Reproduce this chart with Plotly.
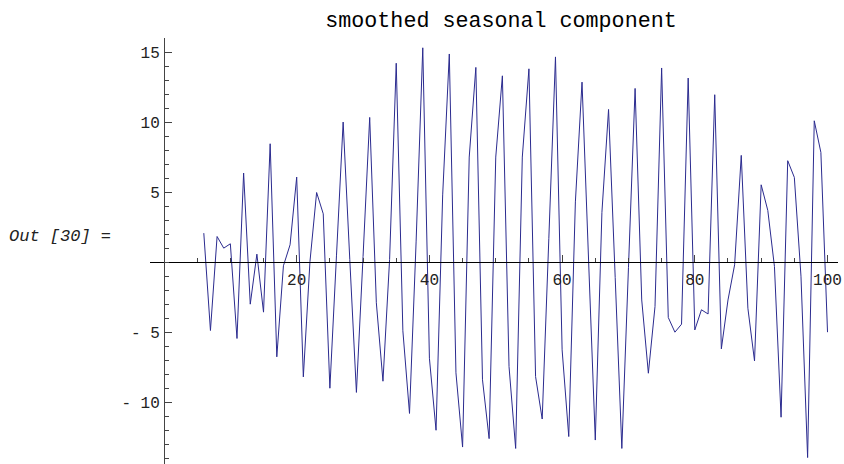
import plotly.graph_objects as go

x_start = 6
values = [
    2.07, -4.88, 1.83, 1.0, 1.31, -5.45, 6.36, -3.0, 0.57, -3.57,      # 6-15
    8.45, -6.76, -0.26, 1.24, 6.07, -8.19, 0.05, 4.97, 3.45, -9.0,     # 16-25
    0.5, 10.0, 0.2, -9.3, 0.4, 10.33, -2.9, -8.5, 0.2, 14.2,           # 26-35
    -4.9, -10.8, 1.5, 15.3, -6.86, -12.0, 4.8, 14.86, -7.9, -13.2,     # 36-45
    7.5, 13.9, -8.4, -12.6, 7.5, 13.3, -7.45, -13.3, 7.5, 13.8,        # 46-55
    -8.17, -11.2, 1.7, 14.65, -6.26, -12.45, 4.3, 12.85, 0.0, -12.7,   # 56-65
    3.55, 10.9, -1.1, -13.3, -0.4, 12.4, -2.7, -7.93, -3.17, 13.86,    # 66-75
    -3.95, -5.0, -4.43, 13.14, -4.84, -3.4, -3.7, 11.95, -6.19, -2.7,  # 76-85
    -0.19, 7.62, -3.29, -7.05, 5.52, 3.69, -0.31, -11.07, 7.24, 6.05,  # 86-95
    -1.0, -13.95, 10.09, 7.83, -5.0                                    # 96-100
]
x_vals = list(range(x_start, x_start + len(values)))

x_tickvals = [20, 40, 60, 80, 100]
x_ticktext = ["20", "40", "60", "80", "100"]
y_tickvals = [15, 10, 5, -5, -10]
y_ticktext = ["15", "10", "5", "- 5", "- 10"]

title_text = "smoothed seasonal component"
out_label = "Out [30] ="

x_range = [-2.11, 101.58]
y_range = [-14.41, 16.0]

W, H = 844, 464
ml, mr, mt, mb = 150, 6, 38, 0

x_frac0 = (0 - x_range[0]) / (x_range[1] - x_range[0])
y_frac0 = (0 - y_range[0]) / (y_range[1] - y_range[0])

fig = go.Figure()
fig.add_trace(go.Scatter(
    x=x_vals, y=values, mode="lines",
    line=dict(color="#2b2b8f", width=1),
    hoverinfo="skip", showlegend=False,
))

tickfont = dict(family="Liberation Mono", size=16, color="#222222")

fig.update_layout(
    width=W, height=H,
    margin=dict(l=ml, r=mr, t=mt, b=mb, pad=0),
    paper_bgcolor="white", plot_bgcolor="white",
    showlegend=False,
    title=dict(text=title_text, xref="container", yref="container",
               x=501 / W, y=1 - 19 / H, xanchor="center", yanchor="middle",
               font=dict(family="Liberation Mono", size=21.7, color="#000000")),
    xaxis=dict(
        range=x_range, anchor="free", position=y_frac0,
        showgrid=False, zeroline=False,
        showline=True, linecolor="#000000", linewidth=1,
        ticks="inside", ticklen=7, tickwidth=1, tickcolor="#444444",
        tickvals=x_tickvals, ticktext=x_ticktext, tickfont=tickfont,
        ticklabelstandoff=3,
        minor=dict(ticks="inside", ticklen=4, tickwidth=1, tickcolor="#444444",
                   tick0=0, dtick=5, showgrid=False),
    ),
    yaxis=dict(
        range=y_range, anchor="free", position=x_frac0,
        showgrid=False, zeroline=False,
        showline=True, linecolor="#444444", linewidth=1,
        ticks="inside", ticklen=7, tickwidth=1, tickcolor="#444444",
        tickvals=y_tickvals, ticktext=y_ticktext, tickfont=tickfont,
        ticklabelstandoff=1,
        minor=dict(ticks="inside", ticklen=4, tickwidth=1, tickcolor="#444444",
                   tick0=0, dtick=1, showgrid=False),
    ),
    annotations=[dict(
        text=out_label, xref="paper", yref="paper",
        x=(7 - ml) / (W - ml - mr), y=(H - 236 - mb) / (H - mt - mb),
        xanchor="left", yanchor="middle", showarrow=False,
        font=dict(family="Liberation Mono", size=17, color="#222222",
                  style="italic"),
    )],
)

fig.write_html("out.html",
               config={"displayModeBar": False},
               post_script="document.body.style.margin='0';"
                           "document.body.style.overflow='hidden';")
